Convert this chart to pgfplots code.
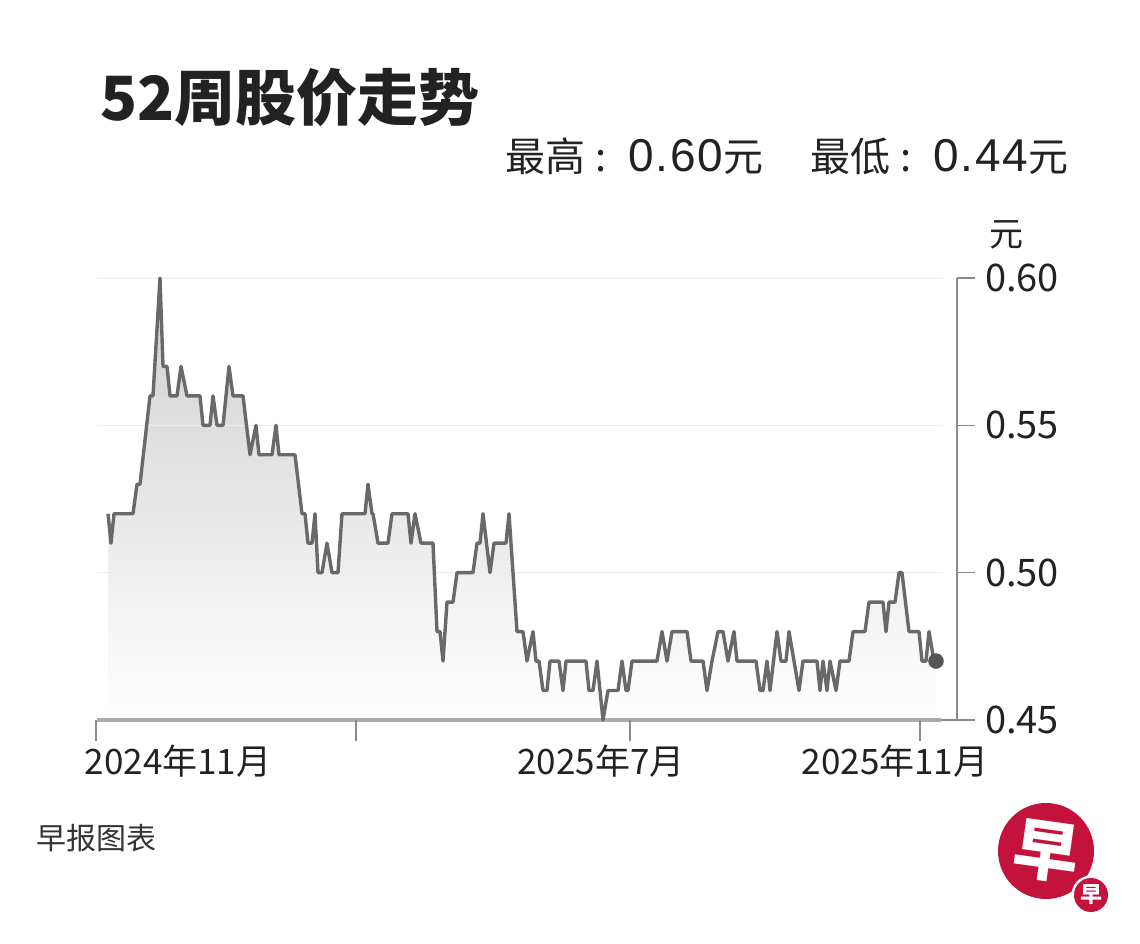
\documentclass[border=0pt]{standalone}
\usepackage{fontspec}
\setmainfont{Noto Sans CJK SC}
\newfontfamily\numfont{Liberation Sans}
\usepackage{pgfplots}
\usepackage{pgfplotstable}
\pgfplotsset{compat=1.18}
\definecolor{linegray}{HTML}{696969}
\definecolor{axisgray}{HTML}{8A8A8A}
\definecolor{basegray}{HTML}{ABABAB}
\definecolor{gridgray}{HTML}{EDEDED}
\definecolor{dotgray}{HTML}{555555}
\definecolor{zbred}{HTML}{C3123B}
\definecolor{txt}{HTML}{222222}

\pgfplotstableread{
x y
108 0.52
111 0.51
114 0.52
133 0.52
137 0.53
140 0.53
150 0.56
153 0.56
160 0.60
163 0.57
167 0.57
170 0.56
177 0.56
181 0.57
187 0.56
200 0.56
203 0.55
210 0.55
213 0.56
217 0.55
223 0.55
229 0.57
233 0.56
243 0.56
250 0.54
256 0.55
259 0.54
272 0.54
276 0.55
279 0.54
295 0.54
302 0.52
305 0.52
308 0.51
312 0.51
315 0.52
318 0.50
322 0.50
327 0.51
332 0.50
338 0.50
342 0.52
365 0.52
368 0.53
372 0.52
373 0.52
378 0.51
388 0.51
392 0.52
408 0.52
411 0.51
415 0.52
421 0.51
433 0.51
437 0.48
440 0.48
443 0.47
447 0.49
453 0.49
457 0.50
473 0.50
477 0.51
480 0.51
483 0.52
490 0.50
494 0.51
506 0.51
509 0.52
517 0.48
523 0.48
527 0.47
533 0.48
536 0.47
539 0.47
543 0.46
547 0.46
550 0.47
559 0.47
563 0.46
566 0.47
586 0.47
589 0.46
593 0.46
597 0.47
603 0.45
608 0.46
618 0.46
622 0.47
626 0.46
628 0.46
632 0.47
657 0.47
662 0.48
667 0.47
672 0.48
687 0.48
691 0.47
703 0.47
707 0.46
712 0.47
718 0.48
723 0.48
728 0.47
734 0.48
737 0.47
756 0.47
760 0.46
763 0.46
767 0.47
770 0.46
777 0.48
781 0.47
786 0.47
789 0.48
794 0.47
799 0.46
803 0.47
817 0.47
820 0.46
823 0.47
827 0.46
830 0.47
836 0.46
840 0.47
849 0.47
853 0.48
865 0.48
869 0.49
883 0.49
886 0.48
889 0.49
895 0.49
899 0.50
902 0.50
909 0.48
919 0.48
922 0.47
926 0.47
929 0.48
934 0.47
936 0.47
}\pricedata

\newcommand\hdr[2]{#1\hspace{10pt}:\hspace{22pt}{\numfont\fontsize{46}{50}\selectfont\addfontfeatures{LetterSpace=4}#2}元}

\begin{document}
\begin{tikzpicture}[x=1pt,y=1pt]
\useasboundingbox (0,0) rectangle (1140,944);
\fill[white] (0,0) rectangle (1140,944);

% titles
\node[anchor=base west, inner sep=0pt, text=txt, font=\fontsize{61}{66}\selectfont\bfseries] at (100,823) {52周股价走势};
\node[anchor=base west, inner sep=0pt, text=txt, font=\fontsize{40}{46}\selectfont] at (505,772) {\hdr{最高}{0.60}};
\node[anchor=base west, inner sep=0pt, text=txt, font=\fontsize{40}{46}\selectfont] at (810,772) {\hdr{最低}{0.44}};
\node[anchor=base west, inner sep=0pt, text=txt, font=\fontsize{34}{38}\selectfont] at (989,697) {元};
\node[anchor=base west, inner sep=0pt, text=black!80, font=\fontsize{30}{34}\selectfont] at (36,94) {早报图表};

\begin{axis}[
  at={(94pt,224pt)}, anchor=south west,
  scale only axis, width=863pt, height=442pt,
  xmin=94, xmax=957, ymin=0.45, ymax=0.60,
  axis x line*=bottom, axis y line*=right,
  x axis line style={draw=none},
  y axis line style={draw=axisgray, line width=1.3pt, -},
  xtick={178,601,895},
  xticklabels={2024年11月,2025年7月,2025年11月},
  xtick style={draw=none},
  xticklabel style={font=\fontsize{35}{38}\selectfont, text=txt, inner sep=0pt, anchor=north, yshift=-7pt},
  ytick={0.45,0.5,0.55,0.6},
  yticklabels={0.45,0.50,0.55,0.60},
  ytick style={draw=axisgray, line width=1.3pt},
  yticklabel style={font=\fontsize{38}{42}\selectfont, text=txt, inner sep=0pt, anchor=west, xshift=10pt},
  tick align=outside, major tick length=18pt,
  clip=false,
]
\addplot[draw=none, top color=black!19, bottom color=white] table {\pricedata}
  -- (axis cs:936,0.45) -- (axis cs:108,0.45) -- cycle;
\draw[gridgray, line width=1.3pt] (axis cs:97,0.50) -- (axis cs:943,0.50);
\draw[gridgray, line width=1.3pt] (axis cs:97,0.55) -- (axis cs:943,0.55);
\draw[gridgray!70, line width=1.3pt] (axis cs:97,0.60) -- (axis cs:943,0.60);
\draw[basegray, line width=3.5pt] (axis cs:97,0.45) -- (axis cs:941,0.45);
\draw[axisgray, line width=1.3pt] (axis cs:941,0.45) -- (axis cs:957,0.45);
\draw[axisgray, line width=1.3pt] (axis cs:96,0.45) -- ([yshift=-21pt]axis cs:96,0.45);
\draw[axisgray, line width=1.3pt] (axis cs:356,0.45) -- ([yshift=-21pt]axis cs:356,0.45);
\draw[axisgray, line width=1.3pt] (axis cs:630,0.45) -- ([yshift=-21pt]axis cs:630,0.45);
\draw[axisgray, line width=1.3pt] (axis cs:920,0.45) -- ([yshift=-21pt]axis cs:920,0.45);
\addplot[linegray, line width=3.4pt, line join=round] table {\pricedata};
\addplot[only marks, mark=*, mark size=7.5pt, color=dotgray] coordinates {(936,0.47)};
\end{axis}

% logo
\fill[zbred] (1046,93) circle (48);
\node[text=white, font=\fontsize{66}{70}\selectfont\bfseries, rotate=-8] at (1046,93) {早};
\fill[white] (1091,49) circle (19.5);
\fill[zbred] (1091,49) circle (17);
\node[text=white, font=\fontsize{22}{24}\selectfont\bfseries] at (1091,49) {早};
\end{tikzpicture}
\end{document}
